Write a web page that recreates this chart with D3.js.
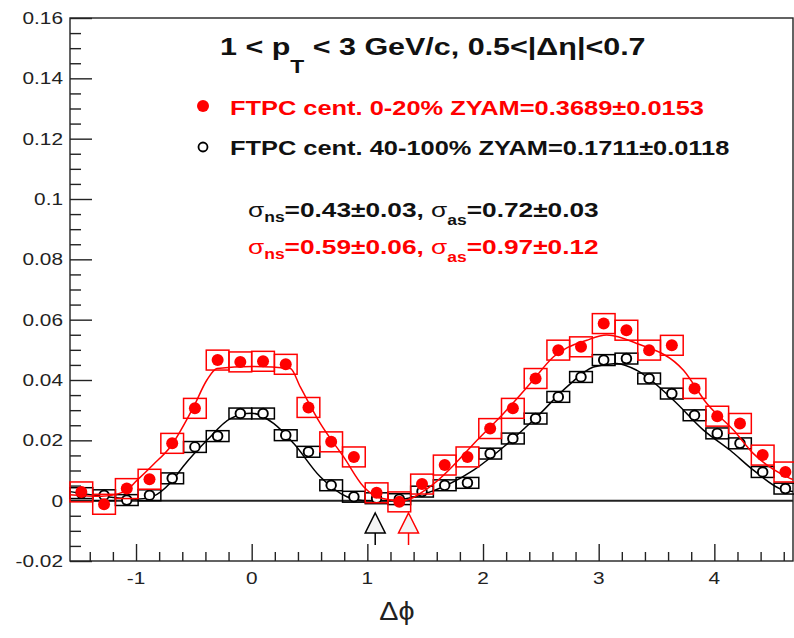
<!DOCTYPE html>
<html>
<head>
<meta charset="utf-8">
<script src="https://cdn.jsdelivr.net/npm/d3@7"></script>
<style>
  html, body { margin: 0; padding: 0; background: #fff; }
  svg { display: block; font-family: "Liberation Sans", Arial, Helvetica, sans-serif; }
</style>
</head>
<body>
<svg id="chart" width="794" height="638"></svg>
<script>
// Δφ correlation, 32 bins over [-π/2, 3π/2]
const nBins = 32;
const binWidth = 2 * Math.PI / nBins;
const binCenters = d3.range(nBins).map(i => -Math.PI / 2 + (i + 0.5) * binWidth);

// FTPC cent. 0-20% (red, filled)
const central = [0.0029, -0.0012, 0.0040, 0.0071, 0.0190, 0.0306, 0.0466, 0.0460,
                 0.0462, 0.0452, 0.0309, 0.0195, 0.0145, 0.0026, -0.0004, 0.0055,
                 0.0118, 0.0145, 0.0239, 0.0306, 0.0405, 0.0499, 0.0510, 0.0587,
                 0.0565, 0.0499, 0.0515, 0.0372, 0.0280, 0.0256, 0.0151, 0.0095];
// FTPC cent. 40-100% (black, open)
const peripheral = [0.0025, 0.0018, 0.0002, 0.0018, 0.0074, 0.0178, 0.0214, 0.0289,
                    0.0289, 0.0217, 0.0162, 0.0051, 0.0013, 0.0008, 0.0005, 0.0030,
                    0.0051, 0.0059, 0.0156, 0.0206, 0.0272, 0.0344, 0.0410, 0.0466,
                    0.0471, 0.0405, 0.0355, 0.0283, 0.0223, 0.0190, 0.0095, 0.0040];
const centralStat = 0.0016, centralSys = 0.0033;
const peripheralStat = 0.0011, peripheralSys = 0.0018;

// Gaussian fits (near side + away side)
const fitCentralX = [-1.571, -1.3, -1.1, -0.99, -0.85, -0.704, -0.502, -0.387, -0.30, 0, 0.334, 0.42,
                     0.593, 0.795, 0.968, 1.1, 1.3, 1.54, 1.976, 2.177, 2.408, 2.61, 2.898, 3.07,
                     3.33, 3.733, 3.935, 4.165, 4.338, 4.627, 4.68];
const fitCentralY = [0.0020, 0.0015, 0.0030, 0.0068, 0.0120, 0.0178, 0.0311, 0.0400, 0.0438, 0.0445, 0.0438, 0.0377,
                     0.0256, 0.0145, 0.0046, 0.0010, 0.0000, 0.0046, 0.0211, 0.0289, 0.0388, 0.0477, 0.0532, 0.0549,
                     0.0521, 0.0432, 0.0322, 0.0234, 0.0156, 0.0079, 0.0070];
const fitPeriphX = [-1.571, -1.3, -1.0, -0.85, -0.7, -0.589, -0.387, -0.185, 0, 0.189, 0.362, 0.593,
                    0.823, 1.0, 1.2, 1.457, 1.918, 2.177, 2.466, 2.725, 2.955, 3.157, 3.33, 3.647,
                    3.906, 4.137, 4.338, 4.597, 4.68];
const fitPeriphY = [0.0030, 0.0015, 0.0005, 0.0015, 0.0060, 0.0115, 0.0200, 0.0272, 0.0290, 0.0256, 0.0190, 0.0079,
                    0.0013, 0.0000, 0.0000, 0.0018, 0.0101, 0.0178, 0.0278, 0.0377, 0.0443, 0.0455, 0.0432, 0.0333,
                    0.0234, 0.0167, 0.0101, 0.0035, 0.0030];

// ZYAM minimum positions (peripheral, central)
const zyamPos = [1.068, 1.356];
const zyamColors = ["#000", "#ff0000"];

const yMajor = [-0.02, 0, 0.02, 0.04, 0.06, 0.08, 0.1, 0.12, 0.14, 0.16];
const yMajorLabels = ["-0.02", "0", "0.02", "0.04", "0.06", "0.08", "0.1", "0.12", "0.14", "0.16"];
const xMajor = [-1, 0, 1, 2, 3, 4];
const xMajorLabels = ["-1", "0", "1", "2", "3", "4"];

const svg = d3.select("#chart");
const L = 70, R = 793, T = 18, B = 561;
const x = d3.scaleLinear().domain([-Math.PI / 2, 4.68]).range([L, R]);
const y = d3.scaleLinear().domain([-0.02, 0.16]).range([B, T]);

// stretched text helper: draws text at (px,py) with horizontal scale sx
function stretched(px, py, sx, anchor) {
  return svg.append("g").attr("transform", `translate(${px},${py}) scale(${sx},1)`)
    .append("text").attr("text-anchor", anchor || "start");
}

// frame
svg.append("rect").attr("x", L).attr("y", T).attr("width", R - L).attr("height", B - T)
  .attr("fill", "none").attr("stroke", "#222").attr("stroke-width", 1.4);

// y axis ticks
const yMinor = d3.range(-0.02, 0.16001, 0.005).filter(v => Math.abs(Math.round(v / 0.02) * 0.02 - v) > 1e-6);
const gy = svg.append("g").attr("transform", `translate(${L},0)`);
gy.call(d3.axisRight(y).tickValues(yMajor).tickSize(22).tickFormat(""));
gy.append("g").call(d3.axisRight(y).tickValues(yMinor).tickSize(11).tickFormat(""));
gy.selectAll(".domain").remove();
gy.selectAll("line").attr("stroke", "#222").attr("stroke-width", 1.4);
yMajor.forEach((v, i) => {
  stretched(63, y(v) + 6, 1.3, "end").attr("font-size", 16).attr("fill", "#222").text(yMajorLabels[i]);
});

// x axis ticks
const xMinor = d3.range(-1.4, 4.7, 0.2).filter(v => Math.abs(Math.round(v) - v) > 1e-6);
const gx = svg.append("g").attr("transform", `translate(0,${B})`);
gx.call(d3.axisTop(x).tickValues(xMajor).tickSize(17).tickFormat(""));
gx.append("g").call(d3.axisTop(x).tickValues(xMinor).tickSize(9).tickFormat(""));
gx.selectAll(".domain").remove();
gx.selectAll("line").attr("stroke", "#222").attr("stroke-width", 1.4);
xMajor.forEach((v, i) => {
  stretched(x(v), 584, 1.3, "middle").attr("font-size", 16).attr("fill", "#222").text(xMajorLabels[i]);
});

// axis title
stretched(397, 620, 1.15, "middle").attr("font-size", 25).attr("fill", "#222").text("Δϕ");

// zero line
svg.append("line").attr("x1", L).attr("x2", R).attr("y1", y(0)).attr("y2", y(0))
  .attr("stroke", "#222").attr("stroke-width", 2);

const plot = svg.append("g");

function drawSeries(vals, stat, sys, color, filled, fx, fy) {
  const pts = vals.map((v, i) => ({ x: binCenters[i], v }));
  // systematic boxes
  plot.append("g").selectAll("rect").data(pts).join("rect")
    .attr("x", d => x(d.x - binWidth / 2)).attr("width", x(binWidth) - x(0))
    .attr("y", d => y(d.v + sys)).attr("height", d => y(d.v - sys) - y(d.v + sys))
    .attr("fill", "none").attr("stroke", color).attr("stroke-width", 1.5);
  // fit
  plot.append("path").datum(fx.map((xx, i) => [xx, fy[i]]))
    .attr("d", d3.line().x(d => x(d[0])).y(d => y(d[1])).curve(d3.curveMonotoneX))
    .attr("fill", "none").attr("stroke", color).attr("stroke-width", 1.5);
  // statistical error bars
  plot.append("g").selectAll("line").data(pts).join("line")
    .attr("x1", d => x(d.x)).attr("x2", d => x(d.x))
    .attr("y1", d => y(d.v - stat)).attr("y2", d => y(d.v + stat))
    .attr("stroke", color).attr("stroke-width", 1.5);
  // markers
  plot.append("g").selectAll("circle").data(pts).join("circle")
    .attr("cx", d => x(d.x)).attr("cy", d => y(d.v)).attr("r", filled ? 6 : 4.8)
    .attr("fill", filled ? color : "#fff").attr("stroke", color)
    .attr("stroke-width", filled ? 0 : 1.9);
}
drawSeries(peripheral, peripheralStat, peripheralSys, "#000", false, fitPeriphX, fitPeriphY);
drawSeries(central, centralStat, centralSys, "#ff0000", true, fitCentralX, fitCentralY);

// ZYAM markers below the zero line
zyamPos.forEach((p, i) => {
  const cx = x(p);
  svg.append("path").attr("d", `M${cx},513 L${cx + 10},533 L${cx - 10},533 Z`)
    .attr("fill", "#f4f4f4").attr("stroke", zyamColors[i]).attr("stroke-width", 1.5);
  svg.append("line").attr("x1", cx).attr("x2", cx).attr("y1", 533).attr("y2", 545)
    .attr("stroke", zyamColors[i]).attr("stroke-width", 1.5);
});

// title
const title = stretched(220, 55, 1.27, "start").attr("font-size", 24).attr("font-weight", "bold").attr("fill", "#111");
title.append("tspan").text("1 < p");
title.append("tspan").attr("font-size", 18).attr("dy", 18).text("T");
title.append("tspan").attr("dy", -18).text(" < 3 GeV/c, 0.5<|Δη|<0.7");

// legend
svg.append("circle").attr("cx", 203).attr("cy", 106).attr("r", 6).attr("fill", "#ff0000");
stretched(230, 115, 1.21).attr("font-size", 21).attr("font-weight", "bold").attr("fill", "#ff0000")
  .text("FTPC cent. 0-20% ZYAM=0.3689±0.0153");
svg.append("circle").attr("cx", 203).attr("cy", 147).attr("r", 4.5).attr("fill", "#fff")
  .attr("stroke", "#000").attr("stroke-width", 1.8);
stretched(230, 155, 1.21).attr("font-size", 21).attr("font-weight", "bold").attr("fill", "#111")
  .text("FTPC cent. 40-100% ZYAM=0.1711±0.0118");

// widths
function sigmaLine(py, color, ns, as) {
  const t = stretched(248, py, 1.25).attr("font-size", 21).attr("fill", color);
  t.append("tspan").text("σ");
  t.append("tspan").attr("font-size", 14).attr("dy", 5).attr("font-weight", "bold").text("ns");
  t.append("tspan").attr("dy", -5).attr("font-weight", "bold").text("=" + ns + ", ");
  t.append("tspan").text("σ");
  t.append("tspan").attr("font-size", 14).attr("dy", 8).attr("font-weight", "bold").text("as");
  t.append("tspan").attr("dy", -8).attr("font-weight", "bold").text("=" + as);
}
sigmaLine(217, "#111", "0.43±0.03", "0.72±0.03");
sigmaLine(254, "#ff0000", "0.59±0.06", "0.97±0.12");
</script>
</body>
</html>
